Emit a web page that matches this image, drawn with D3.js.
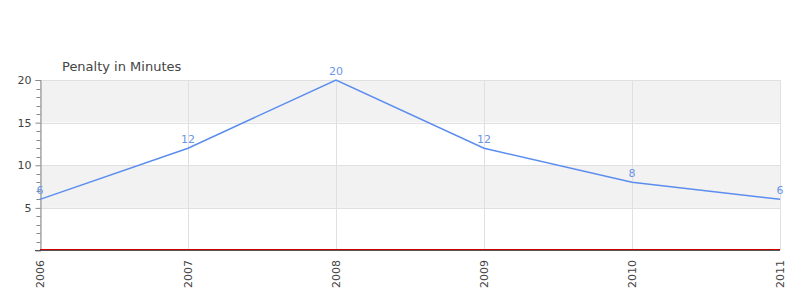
<!DOCTYPE html>
<html><head><meta charset="utf-8">
<script src="https://cdn.jsdelivr.net/npm/d3@7"></script>
<style>body{margin:0;background:#fff;font-family:"DejaVu Sans",sans-serif;}</style>
</head><body><svg id="c" width="800" height="300"></svg>
<script>
const years = ["2006","2007","2008","2009","2010","2011"];
const penalty = [6,12,20,12,8,6];
const yTicks = [5,10,15,20];
const title = "Penalty in Minutes";

const svg = d3.select("#c");
const m = {l:40, r:20, t:80, b:50};
const W = 800, H = 300;
const x = d3.scalePoint().domain(years).range([m.l, W - m.r]);
const y = d3.scaleLinear().domain([0,20]).range([250.5, 80]);

// bands
const bands = [[15,20,"#f2f2f2"],[10,15,"#fff"],[5,10,"#f2f2f2"],[0,5,"#fff"]];
svg.selectAll("rect.band").data(bands).enter().append("rect")
  .attr("x", m.l).attr("width", W - m.r - m.l)
  .attr("y", d => y(d[1])).attr("height", d => y(d[0]) - y(d[1]))
  .attr("fill", d => d[2]);

// horizontal grid
svg.selectAll("line.hg").data(yTicks).enter().append("line")
  .attr("x1", m.l).attr("x2", W - m.r)
  .attr("y1", d => Math.round(y(d)) + 0.5).attr("y2", d => Math.round(y(d)) + 0.5)
  .attr("stroke", "#e0e0e0");
// vertical grid
svg.selectAll("line.vg").data(years).enter().append("line")
  .attr("x1", d => Math.round(x(d)) + 0.5).attr("x2", d => Math.round(x(d)) + 0.5)
  .attr("y1", 80).attr("y2", 250)
  .attr("stroke", "#e0e0e0");

// y axis
const ya = svg.append("g").attr("transform", `translate(${m.l + 0.5},0)`)
  .call(d3.axisLeft(y).tickValues(yTicks).tickSize(5).tickPadding(4).tickFormat(d3.format("d")));
ya.select(".domain").attr("stroke", "#888");
ya.selectAll(".tick line").attr("stroke", "#888");
ya.selectAll("text").attr("fill", "#444").attr("font-size", 11).attr("font-family", "DejaVu Sans");
// minor ticks
const minor = d3.range(1, 20).filter(v => v % 5 !== 0);
ya.selectAll("line.minor").data(minor).enter().append("line")
  .attr("x1", -4).attr("x2", 0)
  .attr("y1", d => Math.round(y(d)) + 0.5).attr("y2", d => Math.round(y(d)) + 0.5)
  .attr("stroke", "#888");

// x axis
const xa = svg.append("g").attr("transform", `translate(0,250)`)
  .call(d3.axisBottom(x).tickSize(0).tickPadding(0));
xa.select(".domain").remove();
xa.selectAll("text").attr("fill", "#444").attr("font-size", 11).attr("font-family", "DejaVu Sans")
  .attr("transform", "rotate(-90)").attr("text-anchor", "end")
  .attr("x", -10).attr("y", 0).attr("dy", "0.35em");
// baseline
svg.append("line").attr("x1", m.l).attr("x2", W - m.r).attr("y1", 249.5).attr("y2", 249.5).attr("stroke", "#c00").attr("stroke-width", 1);
svg.append("line").attr("x1", m.l - 5).attr("x2", W - m.r).attr("y1", 250.5).attr("y2", 250.5).attr("stroke", "#555").attr("stroke-width", 1);

// line
const line = d3.line().x((d,i) => x(years[i])).y(d => y(d));
svg.append("path").datum(penalty).attr("d", line)
  .attr("fill", "none").attr("stroke", "#5b8def").attr("stroke-width", 1.5);

// labels
svg.selectAll("text.lab").data(penalty).enter().append("text")
  .attr("x", (d,i) => x(years[i])).attr("y", d => y(d) - 5)
  .attr("text-anchor", "middle").attr("fill", "#6c95e8")
  .attr("font-size", 11).attr("font-family", "DejaVu Sans")
  .text(d => d);

svg.append("text").attr("x", 62).attr("y", 71).attr("fill", "#444")
  .attr("font-size", 13).attr("font-family", "DejaVu Sans").text(title);
</script></body></html>
